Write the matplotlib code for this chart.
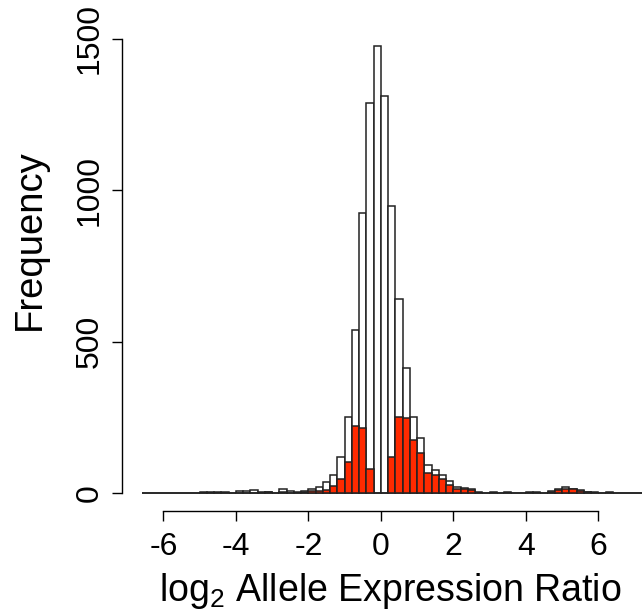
import numpy as np
import matplotlib
matplotlib.use("Agg")
import matplotlib.pyplot as plt

plt.rcParams['font.family'] = ['Liberation Sans', 'DejaVu Sans']
plt.rcParams['axes.unicode_minus'] = False

# histogram bins: width 0.2, from -6.6 to 7.2
bin_left = np.arange(-33, 36) * 0.2

# all SNPs (white bars)
all_counts = [2, 2, 1, 0, 0, 0, 0, 1, 3, 3, 4, 4, 2, 7, 6, 10, 4, 5, 1,
              13, 7, 4, 7, 15, 20, 37, 60, 120, 251, 537, 926, 1287,
              1474, 1311, 948, 640, 413, 251, 181, 92, 75, 59, 39, 20, 16,
              13, 3, 2, 3, 2, 3, 2, 1, 3, 3, 2, 7, 14, 20, 15, 9, 4, 3, 2,
              3, 1, 1, 1, 1]

# significant subset (red bars)
sig_counts = [0, 0, 0, 0, 0, 0, 0, 0, 1, 1, 1, 2, 1, 2, 2, 2, 1, 5, 0,
              5, 2, 1, 3, 8, 6, 11, 22, 48, 102, 221, 214, 79,
              0, 0, 119, 251, 247, 176, 132, 67, 61, 48, 28, 15, 12,
              11, 2, 1, 2, 1, 2, 1, 0, 1, 1, 1, 5, 11, 12, 12, 8, 3, 2, 1,
              1, 0, 0, 0, 0]

fig = plt.figure(figsize=(6.43, 6.13), dpi=100)
ax = fig.add_axes([0.1893, 0.1664, 0.8107, 0.788])

ax.bar(bin_left, all_counts, width=0.2, align='edge', color='white',
       edgecolor='#222222', linewidth=1.1)
ax.bar(bin_left, sig_counts, width=0.2, align='edge', color='#ff2a00',
       edgecolor='#222222', linewidth=1.1)

ax.set_xlim(-7.15, 7.23)
ax.set_ylim(-59, 1535)

for side in ['top', 'right']:
    ax.spines[side].set_visible(False)
ax.spines['left'].set_bounds(0, 1500)
ax.spines['bottom'].set_bounds(-6, 6)
ax.spines['left'].set_linewidth(1)
ax.spines['bottom'].set_linewidth(1)

ax.set_xticks([-6, -4, -2, 0, 2, 4, 6])
ax.set_yticks([0, 500, 1000, 1500])
ax.tick_params(direction='out', length=7, width=1, labelsize=23)
ax.tick_params(axis='x', pad=8)
ax.tick_params(axis='y', pad=5)
for lab in ax.get_yticklabels():
    lab.set_rotation(90)
    lab.set_va('center')

ax.set_xlabel(r'log$_\mathregular{2}$ Allele Expression Ratio', fontsize=27)
ax.xaxis.set_label_coords(0.515, -0.166)
ax.xaxis.label.set_va('center')
ax.set_ylabel('Frequency', fontsize=27.5)
ax.yaxis.set_label_coords(-0.176, 0.561)
ax.yaxis.label.set_va('center')

fig.savefig('out.png', dpi=100)
